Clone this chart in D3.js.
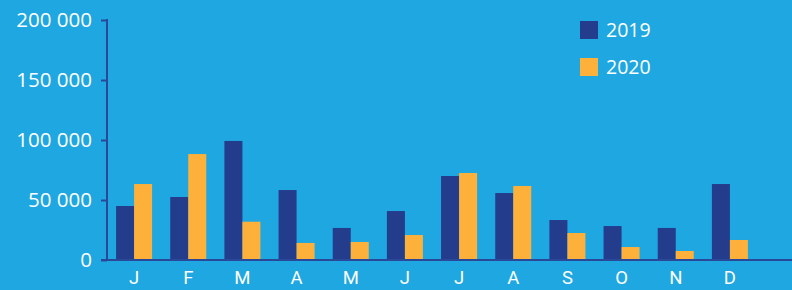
<!DOCTYPE html>
<html lang="en">
<head>
    <meta charset="utf-8" />
    <script src="https://d3js.org/d3.v7.min.js"></script>
    <style>
        body { margin: 0; background: #1ea7e0; }
        text { font-family: "Open Sans", sans-serif; fill: #fff; }
    </style>
</head>
<body>
    <script>
        const w = 792;
        const h = 290;

        const months = ["J", "F", "M", "A", "M", "J", "J", "A", "S", "O", "N", "D"];
        const series = ["2019", "2020"];
        const values2019 = [45000, 52500, 99200, 58300, 26700, 40800, 70000, 55800, 33300, 28300, 26700, 63300];
        const values2020 = [63300, 88300, 31900, 14200, 15000, 20800, 72500, 61700, 22500, 10800, 7500, 16700];
        const yTicks = [0, 50000, 100000, 150000, 200000];

        const colors = { "2019": "#243c8c", "2020": "#fdb03a" };
        const axisColor = "#2a4898";

        const data = months.map((m, i) => ({ i, m, "2019": values2019[i], "2020": values2020[i] }));

        const svg = d3.select("body").append("svg")
            .attr("width", w)
            .attr("height", h);

        svg.append("rect").attr("width", w).attr("height", h).attr("fill", "#1ea7e0");

        const x = d3.scaleBand()
            .domain(d3.range(months.length))
            .range([107, 757])
            .paddingInner(0.335)
            .paddingOuter(0.1675);

        const xInner = d3.scaleBand()
            .domain(series)
            .range([0, x.bandwidth()]);

        const y = d3.scaleLinear()
            .domain([0, 200000])
            .range([260, 20]);

        // bars
        const groups = svg.append("g").selectAll("g")
            .data(data)
            .join("g")
            .attr("transform", d => `translate(${x(d.i)},0)`);

        groups.selectAll("rect")
            .data(d => series.map(s => ({ s, v: d[s] })))
            .join("rect")
            .attr("x", d => xInner(d.s))
            .attr("y", d => y(d.v))
            .attr("width", xInner.bandwidth())
            .attr("height", d => y(0) - y(d.v))
            .attr("fill", d => colors[d.s]);

        // y axis
        const yAxis = d3.axisLeft(y)
            .tickValues(yTicks)
            .tickSize(6)
            .tickPadding(9)
            .tickFormat(d => d3.format(",")(d).replace(/,/g, " "));

        const gy = svg.append("g")
            .attr("transform", "translate(107,0)")
            .call(yAxis);
        gy.select(".domain").remove();
        gy.selectAll(".tick line").attr("stroke", axisColor).attr("stroke-width", 2);
        gy.selectAll(".tick text").style("font-size", "20.5px").attr("fill", "#fff");
        gy.append("line")
            .attr("x1", 0).attr("x2", 0)
            .attr("y1", y(200000) - 1).attr("y2", y(0) + 1)
            .attr("stroke", axisColor).attr("stroke-width", 2);

        // x axis
        svg.append("line")
            .attr("x1", 101).attr("x2", w)
            .attr("y1", y(0)).attr("y2", y(0))
            .attr("stroke", axisColor).attr("stroke-width", 2);

        // month labels (Roboto: J sits on the baseline like the original)
        svg.append("g").selectAll("text")
            .data(data)
            .join("text")
            .attr("x", d => x(d.i) + x.bandwidth() / 2)
            .attr("y", 284)
            .attr("text-anchor", "middle")
            .style("font-family", "Roboto, sans-serif")
            .style("font-size", "18.5px")
            .text(d => d.m);

        // legend
        const legend = svg.append("g").selectAll("g")
            .data(series)
            .join("g")
            .attr("transform", (d, i) => `translate(580,${21 + i * 37})`);
        legend.append("rect")
            .attr("width", 18).attr("height", 18)
            .attr("fill", d => colors[d]);
        legend.append("text")
            .attr("x", 26).attr("y", 16)
            .style("font-size", "19.5px")
            .text(d => d);
    </script>
</body>
</html>
